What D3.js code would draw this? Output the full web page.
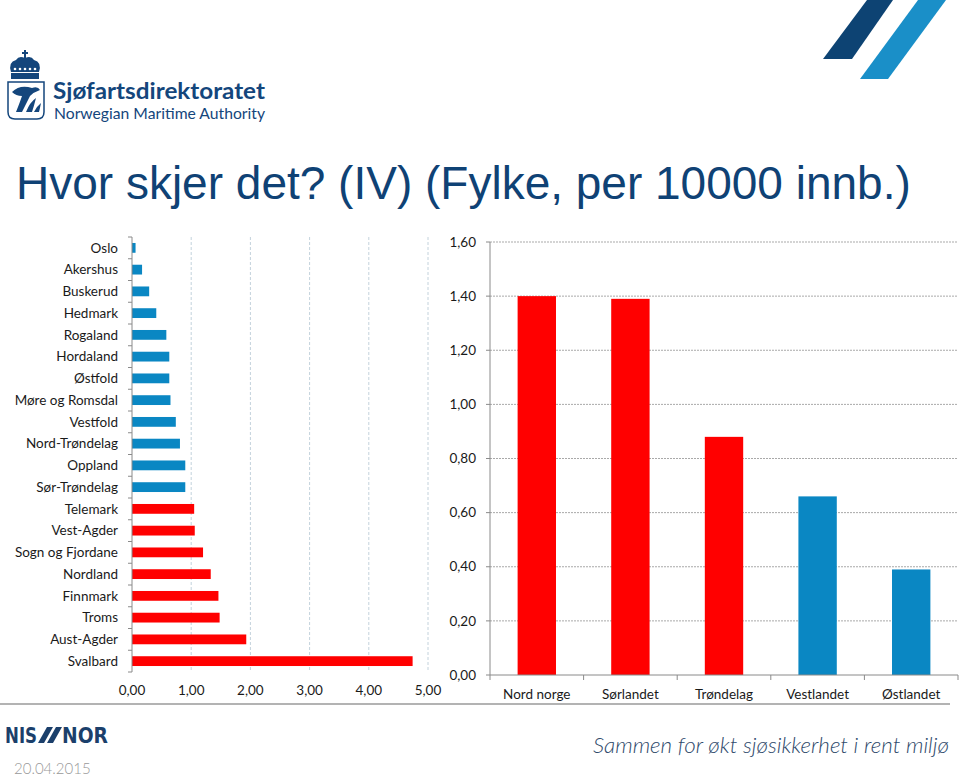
<!DOCTYPE html>
<html>
<head>
<meta charset="utf-8">
<script src="https://cdn.jsdelivr.net/npm/d3@7"></script>
<style>
  html, body { margin: 0; padding: 0; background: #fff; }
  svg { display: block; }
</style>
</head>
<body>
<div id="chart"></div>
<script>
// data: incidents per 10000 inhabitants
const fylker = ["Oslo", "Akershus", "Buskerud", "Hedmark", "Rogaland", "Hordaland", "Østfold",
  "Møre og Romsdal", "Vestfold", "Nord-Trøndelag", "Oppland", "Sør-Trøndelag", "Telemark",
  "Vest-Agder", "Sogn og Fjordane", "Nordland", "Finnmark", "Troms", "Aust-Agder", "Svalbard"];
const fylkeVerdier = [0.06, 0.17, 0.29, 0.41, 0.58, 0.63, 0.63, 0.65, 0.74, 0.81, 0.90, 0.90,
  1.05, 1.06, 1.20, 1.33, 1.46, 1.48, 1.93, 4.74];
const fylkeTicks = [0, 1, 2, 3, 4, 5];

const landsdeler = ["Nord norge", "Sørlandet", "Trøndelag", "Vestlandet", "Østlandet"];
const landsdelVerdier = [1.40, 1.39, 0.88, 0.66, 0.39];
const landsdelTicks = [0, 0.2, 0.4, 0.6, 0.8, 1.0, 1.2, 1.4, 1.6];

// which categories are highlighted in red
const markerteFylker = ["Telemark", "Vest-Agder", "Sogn og Fjordane", "Nordland", "Finnmark", "Troms", "Aust-Agder", "Svalbard"];
const markerteLandsdeler = ["Nord norge", "Sørlandet", "Trøndelag"];

const red = "#ff0000";
const blue = "#0a87c3";
const navy = "#14467c";
const labelFont = "Lato, 'Open Sans', sans-serif";
const fmt = v => d3.format(".2f")(v).replace(".", ",");

const width = 960, height = 776;

const svg = d3.select("#chart").append("svg")
    .attr("width", width)
    .attr("height", height);

// ---------- header: logo + stripes ----------
const logo = svg.append("g").attr("fill", navy);

// crown
logo.append("path")
    .attr("d", "M11,72 Q8,62 16,60 Q19,55 25,58 Q31,55 34,60 Q42,62 39,72 Z");
logo.append("rect").attr("x", 11).attr("y", 73).attr("width", 28).attr("height", 6);
logo.append("rect").attr("x", 24).attr("y", 50).attr("width", 2).attr("height", 8);
logo.append("rect").attr("x", 22).attr("y", 52).attr("width", 6).attr("height", 2);
logo.append("g").attr("fill", "#fff")
    .selectAll("circle").data([15, 20, 25, 30, 35]).join("circle")
    .attr("cx", d => d).attr("cy", 69).attr("r", 1.3);

// shield
logo.append("path")
    .attr("fill", "#fff").attr("stroke", navy).attr("stroke-width", 1.5)
    .attr("d", "M8,82 L44,82 L44,112 Q44,119 37,119 L15,119 Q8,119 8,112 Z");
logo.append("path")
    .attr("d", "M12,92 Q20,84 32,88 Q38,86 40,90 Q34,92 30,96 Q26,104 22,112 L16,112 Q20,102 22,96 Q16,96 12,92 Z");
logo.append("path")
    .attr("d", "M26,112 Q30,102 36,98 Q34,106 32,112 Z M34,112 Q37,106 41,103 Q40,108 39,112 Z");

logo.append("text")
    .attr("x", 53).attr("y", 99)
    .attr("font-family", "Lato, 'Open Sans', sans-serif")
    .attr("font-weight", 700)
    .attr("font-size", 22)
    .attr("textLength", 212)
    .attr("lengthAdjust", "spacingAndGlyphs")
    .text("Sjøfartsdirektoratet");
logo.append("text")
    .attr("x", 54).attr("y", 119)
    .attr("font-family", "Lato, 'Open Sans', sans-serif")
    .attr("font-weight", 400)
    .attr("font-size", 15)
    .attr("textLength", 211)
    .attr("lengthAdjust", "spacingAndGlyphs")
    .text("Norwegian Maritime Authority");

// stripes top right
svg.append("polygon").attr("fill", "#0d4373")
    .attr("points", "867,0 893,0 852,59 823,59");
svg.append("polygon").attr("fill", "#1a8fc8")
    .attr("points", "918,0 946,0 888,79 860,79");

// title
svg.append("text")
    .attr("x", 16).attr("y", 199)
    .attr("font-family", "'Liberation Sans', Arial, sans-serif")
    .attr("font-size", 46)
    .attr("fill", "#0f4275")
    .text("Hvor skjer det? (IV) (Fylke, per 10000 innb.)");

// ---------- left chart: fylker ----------
const xL = d3.scaleLinear().domain([0, 5]).range([132, 428]);
const yL = d3.scaleBand().domain(fylker).range([237, 672])
    .paddingInner(0.55).paddingOuter(0.275);

const left = svg.append("g").attr("font-family", labelFont);

// vertical gridlines
left.append("g")
    .selectAll("line").data(fylkeTicks.slice(1)).join("line")
    .attr("x1", d => xL(d)).attr("x2", d => xL(d))
    .attr("y1", 237).attr("y2", 672)
    .attr("stroke", "#c3d2dc").attr("stroke-dasharray", "3,2");

left.selectAll("rect.bar")
    .data(fylker)
    .join("rect")
    .attr("class", "bar")
    .attr("x", xL(0))
    .attr("y", d => yL(d))
    .attr("height", yL.bandwidth())
    .attr("width", (d, i) => xL(fylkeVerdier[i]) - xL(0))
    .attr("fill", d => markerteFylker.includes(d) ? red : blue);

// category axis with ticks at band boundaries
left.append("line")
    .attr("x1", 132).attr("x2", 132).attr("y1", 237).attr("y2", 672)
    .attr("stroke", "#8a8a8a");
left.append("g")
    .selectAll("line").data(d3.range(fylker.length + 1)).join("line")
    .attr("x1", 128).attr("x2", 132)
    .attr("y1", i => 237 + i * yL.step()).attr("y2", i => 237 + i * yL.step())
    .attr("stroke", "#8a8a8a");

left.append("g")
    .selectAll("text").data(fylker).join("text")
    .attr("x", 118)
    .attr("y", d => yL(d) + yL.bandwidth() / 2)
    .attr("dy", "0.35em")
    .attr("text-anchor", "end")
    .attr("font-size", 13.5)
    .attr("fill", "#1a1a1a")
    .text(d => d);

left.append("g")
    .selectAll("text").data(fylkeTicks).join("text")
    .attr("x", d => xL(d))
    .attr("y", 695)
    .attr("text-anchor", "middle")
    .attr("font-size", 13.5)
    .attr("fill", "#1a1a1a")
    .text(fmt);

// ---------- right chart: landsdeler ----------
const xR = d3.scaleBand().domain(landsdeler).range([490, 958])
    .paddingInner(0.59).paddingOuter(0.295);
const yR = d3.scaleLinear().domain([0, 1.6]).range([675, 242]);

const right = svg.append("g").attr("font-family", labelFont);

right.append("g")
    .selectAll("line").data(landsdelTicks.slice(1)).join("line")
    .attr("x1", 490).attr("x2", 958)
    .attr("y1", d => yR(d)).attr("y2", d => yR(d))
    .attr("stroke", "#a9a9a9").attr("stroke-dasharray", "2,1");

right.selectAll("rect.bar")
    .data(landsdeler)
    .join("rect")
    .attr("class", "bar")
    .attr("x", d => xR(d))
    .attr("y", (d, i) => yR(landsdelVerdier[i]))
    .attr("width", xR.bandwidth())
    .attr("height", (d, i) => yR(0) - yR(landsdelVerdier[i]))
    .attr("fill", d => markerteLandsdeler.includes(d) ? red : blue);

// axes
right.append("line")
    .attr("x1", 490).attr("x2", 490).attr("y1", yR(1.6)).attr("y2", yR(0))
    .attr("stroke", "#8a8a8a");
right.append("line")
    .attr("x1", 490).attr("x2", 958).attr("y1", yR(0)).attr("y2", yR(0))
    .attr("stroke", "#8a8a8a");
right.append("g")
    .selectAll("line").data(landsdelTicks).join("line")
    .attr("x1", 486).attr("x2", 490)
    .attr("y1", d => yR(d)).attr("y2", d => yR(d))
    .attr("stroke", "#8a8a8a");
right.append("g")
    .selectAll("line").data(d3.range(landsdeler.length + 1)).join("line")
    .attr("x1", i => 490 + i * xR.step()).attr("x2", i => 490 + i * xR.step())
    .attr("y1", yR(0)).attr("y2", yR(0) + 5)
    .attr("stroke", "#8a8a8a");

right.append("g")
    .selectAll("text").data(landsdelTicks).join("text")
    .attr("x", 476)
    .attr("y", d => yR(d))
    .attr("dy", "0.35em")
    .attr("text-anchor", "end")
    .attr("font-size", 13.5)
    .attr("fill", "#1a1a1a")
    .text(fmt);

right.append("g")
    .selectAll("text").data(landsdeler).join("text")
    .attr("x", d => xR(d) + xR.bandwidth() / 2)
    .attr("y", 699)
    .attr("text-anchor", "middle")
    .attr("font-size", 13.5)
    .attr("fill", "#1a1a1a")
    .text(d => d);

// ---------- footer ----------
svg.append("line")
    .attr("x1", 0).attr("x2", 950).attr("y1", 704).attr("y2", 704)
    .attr("stroke", "#9a9a9a").attr("stroke-width", 1.5);

const nis = svg.append("g").attr("fill", "#1b3f6b")
    .attr("font-family", "'Liberation Sans Narrow', 'DejaVu Sans Condensed', sans-serif")
    .attr("font-weight", 700)
    .attr("font-size", 22);
nis.append("text").attr("x", 5).attr("y", 743)
    .attr("textLength", 32).attr("lengthAdjust", "spacingAndGlyphs").text("NIS");
nis.append("text").attr("x", 62).attr("y", 743)
    .attr("textLength", 46).attr("lengthAdjust", "spacingAndGlyphs").text("NOR");
nis.append("polygon").attr("points", "38,743 44,743 53,727 47,727");
nis.append("polygon").attr("points", "47,743 53,743 62,727 56,727");

svg.append("text")
    .attr("x", 593).attr("y", 753)
    .attr("font-family", "Lato, 'Open Sans', sans-serif")
    .attr("font-style", "italic")
    .attr("font-weight", 300)
    .attr("font-size", 21)
    .attr("fill", "#2f4a6b")
    .attr("textLength", 356)
    .attr("lengthAdjust", "spacingAndGlyphs")
    .text("Sammen for økt sjøsikkerhet i rent miljø");

svg.append("text")
    .attr("x", 14).attr("y", 774)
    .attr("font-family", labelFont)
    .attr("font-weight", 300)
    .attr("font-size", 15)
    .attr("fill", "#999")
    .text("20.04.2015");
</script>
</body>
</html>
